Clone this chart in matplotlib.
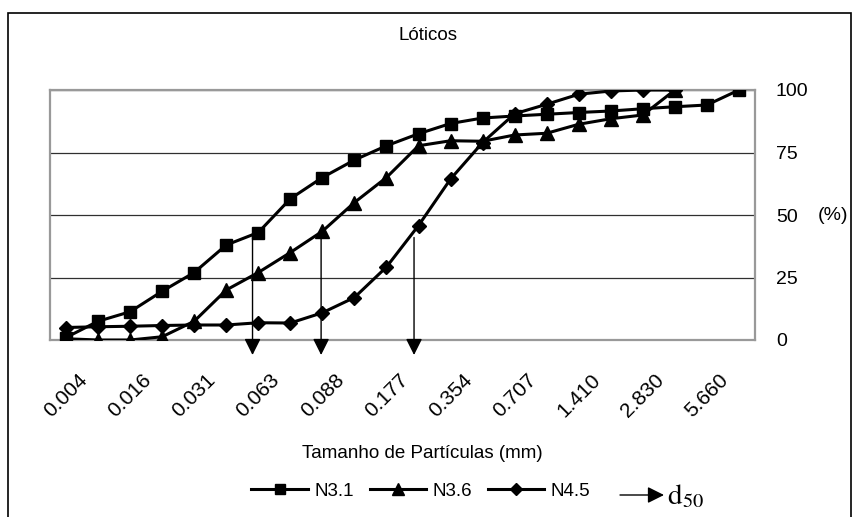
import matplotlib
matplotlib.use('Agg')
import matplotlib.pyplot as plt
from matplotlib.lines import Line2D
from matplotlib.patches import Rectangle, FancyArrowPatch
import numpy as np

plt.rcParams['font.family'] = ['Liberation Sans', 'DejaVu Sans']
plt.rcParams['mathtext.fontset'] = 'stix'

# Data
x_labels = ['0.004', '0.016', '0.031', '0.063', '0.088', '0.177',
            '0.354', '0.707', '1.410', '2.830', '5.660']
n_categories = 22

n31 = [1, 7.5, 11.3, 19.5, 27, 38, 43, 56.5, 65, 72, 77.7, 82.5,
       86.6, 88.8, 89.6, 90.3, 91, 91.6, 92.5, 93.3, 94, 100]
n36 = [0.5, 0, 0, 1.3, 7.5, 20, 27, 35, 43.5, 55, 65, 77.7,
       79.7, 79.5, 82, 82.7, 86.3, 88.5, 90, 100]
n45 = [5, 5.3, 5.5, 5.8, 6, 6, 6.9, 6.8, 10.9, 17, 29.2, 45.8,
       64.4, 79, 90.5, 94.3, 98.3, 99.6, 100, 100]

# d50 arrows (category position, value where the arrow starts)
d50_pos = [5.82, 7.96, 10.86]
d50_top = [42.5, 41, 41]

fig = plt.figure(figsize=(8.56, 5.17), dpi=100)
ax = fig.add_axes([50 / 856, 1 - 340 / 517, 705 / 856, 250 / 517])

ax.plot(np.arange(len(n31)), n31, color='black', lw=2.2, marker='s', ms=8, zorder=4, label='N3.1')
ax.plot(np.arange(len(n36)), n36, color='black', lw=2.2, marker='^', ms=9.5, zorder=4, label='N3.6')
ax.plot(np.arange(len(n45)), n45, color='black', lw=2.2, marker='D', ms=7.5, zorder=4, label='N4.5')

for xp, top in zip(d50_pos, d50_top):
    ax.annotate('', xy=(xp, -6), xytext=(xp, top), annotation_clip=False,
                arrowprops=dict(arrowstyle='-|>,head_length=0.5,head_width=0.25',
                                mutation_scale=20, color='black', lw=1,
                                shrinkA=0, shrinkB=0), zorder=3)

ax.set_xlim(-0.5, n_categories - 0.5)
ax.set_ylim(0, 100)
ax.set_xticks(np.arange(0, 2 * len(x_labels), 2))
ax.set_xticklabels(x_labels, rotation=45, fontsize=15)
ax.tick_params(axis='x', length=0, pad=22)

ax.yaxis.tick_right()
ax.set_yticks([0, 25, 50, 75, 100])
ax.tick_params(axis='y', length=0, pad=15, labelsize=14)
ax.text(1.089, 50, '(%)', transform=ax.get_yaxis_transform(), ha='left', va='center', fontsize=14)

ax.grid(axis='y', color='#303030', lw=0.9)
ax.set_axisbelow(True)
for s in ax.spines.values():
    s.set_color('#999999')
    s.set_linewidth(1.6)

fig.text(428 / 856, 1 - 36 / 517, 'Lóticos', ha='center', va='center', fontsize=13.5)
fig.text(422 / 856, 1 - 453 / 517, 'Tamanho de Partículas (mm)', ha='center', va='center', fontsize=13.5)

handles = [Line2D([], [], color='black', lw=2.2, marker=m, ms=s)
           for m, s in [('s', 7), ('^', 8.5), ('D', 6.5)]]
fig.legend(handles, ['N3.1', 'N3.6', 'N4.5'], loc='center', ncol=3, frameon=False,
           bbox_to_anchor=(421 / 856, 1 - 491 / 517), fontsize=13.5,
           handlelength=3.0, handletextpad=0.35, columnspacing=0.85, borderpad=0)

# d50 key
fig.add_artist(FancyArrowPatch(
    (620 / 856, 1 - 495 / 517), (664 / 856, 1 - 495 / 517), transform=fig.transFigure,
    arrowstyle='-|>,head_length=0.5,head_width=0.25', mutation_scale=20,
    color='black', lw=1, shrinkA=0, shrinkB=0))
fig.text(667 / 856, 1 - 496 / 517, r'$\mathrm{d}_{50}$', ha='left', va='center', fontsize=21)

# outer chart frame
fig.add_artist(Rectangle((8 / 856, -0.05), 843 / 856, 0.05 + 1 - 13 / 517,
                         transform=fig.transFigure, fill=False, ec='black', lw=1.2))

fig.savefig('out.png', dpi=100, facecolor='white')
